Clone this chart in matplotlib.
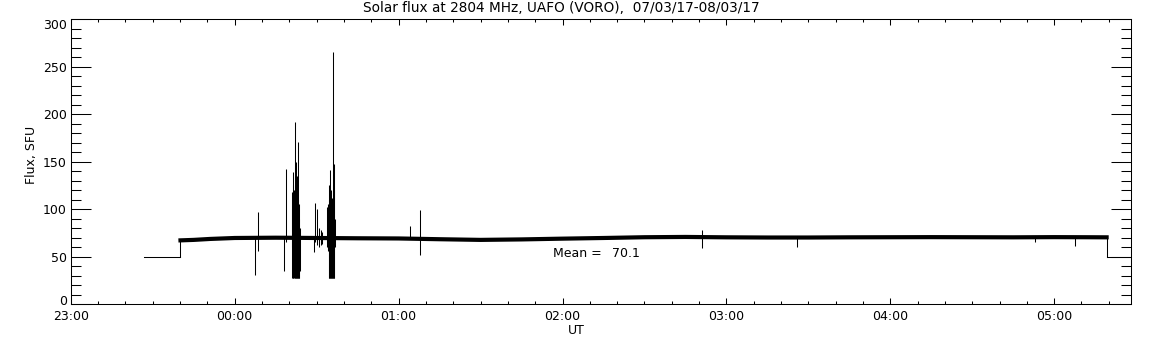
#!/usr/bin/env python3

import matplotlib
matplotlib.use('Agg')
import matplotlib.pyplot as plt
from matplotlib.ticker import MultipleLocator, FuncFormatter
from matplotlib.transforms import ScaledTranslation

# hours relative to 00:00 UT on 08/03/17
flat_start = [-0.553, -0.331]
flat_end = [5.320, 5.469]
flat_level = 50.0

base_t = [-0.331, -0.25, -0.15, 0.0, 0.25, 0.5, 0.75, 1.0, 1.25, 1.5, 1.75,
          2.0, 2.25, 2.5, 2.75, 3.0, 3.25, 3.5, 3.75, 4.0, 4.25, 4.5, 4.75,
          5.0, 5.2, 5.32]
base_v = [67.0, 67.5, 68.5, 69.5, 69.8, 69.5, 69.2, 69.0, 68.2, 67.5, 68.0,
          68.8, 69.5, 70.3, 70.6, 70.2, 70.0, 70.0, 70.2, 70.3, 70.4, 70.3, 70.2,
          70.4, 70.3, 70.2]

# isolated spikes: time (h), low, high
spike_t = [0.122, 0.144, 0.303, 0.315,
           0.486, 0.492, 0.504, 0.516, 0.525, 0.533,
           1.072, 1.133, 2.851, 3.43, 4.88, 5.13]
spike_lo = [30.5, 56, 35, 65,
            55, 65, 62, 60, 62, 63,
            68, 52, 59, 60, 65, 61]
spike_hi = [70, 97, 70, 142,
            70, 106, 100, 80, 78, 76,
            82, 99, 78, 72, 72, 72]

# first burst (about 00:21-00:24)
burst1_t = [0.348, 0.351, 0.354, 0.357, 0.360, 0.363, 0.366, 0.369, 0.372,
            0.375, 0.378, 0.381, 0.384, 0.387, 0.390, 0.393, 0.396]
burst1_lo = [60, 27, 27, 27, 40, 27, 27, 27, 27, 27, 27, 27, 27, 27, 27, 27, 35]
burst1_hi = [118, 100, 139, 125, 120, 110, 192, 115, 150, 130, 135, 120, 110,
             171, 105, 90, 80]

# second burst (about 00:34-00:37)
burst2_t = [0.565, 0.568, 0.571, 0.574, 0.577, 0.580, 0.583, 0.586, 0.589,
            0.592, 0.595, 0.598, 0.601, 0.604, 0.607, 0.610]
burst2_lo = [60, 58, 56, 27, 27, 27, 27, 27, 27, 27, 27, 27, 27, 27, 27, 60]
burst2_hi = [102, 98, 105, 110, 125, 141, 115, 120, 110, 108, 112, 105, 265,
             120, 147, 90]

y_ticks = [0, 50, 100, 150, 200, 250, 300]
mean_value = 70.1
title = 'Solar flux at 2804 MHz, UAFO (VORO),  07/03/17-08/03/17'


def hhmm(x, pos):
    h = int(round(x)) % 24
    return '%02d:00' % h


def main():
    plt.rcParams['font.family'] = ['DejaVu Sans']
    plt.rcParams['font.size'] = 9

    fig = plt.figure(figsize=(11.52, 3.45), dpi=100)
    ax = fig.add_axes([0.0615, 0.1188, 0.9203, 0.8261])

    lw = 0.75
    ax.plot(flat_start, [flat_level, flat_level], color='black', lw=lw)
    ax.plot([flat_start[1], base_t[0]], [flat_level, base_v[0]], color='black', lw=lw)
    ax.plot(base_t, base_v, color='black', lw=3.0, solid_joinstyle='miter')
    ax.plot([base_t[-1], flat_end[0]], [base_v[-1], flat_level], color='black', lw=lw)
    ax.plot(flat_end, [flat_level, flat_level], color='black', lw=lw)
    ax.vlines(spike_t, spike_lo, spike_hi, color='black', lw=lw)
    ax.vlines(burst1_t, burst1_lo, burst1_hi, color='black', lw=lw)
    ax.vlines(burst2_t, burst2_lo, burst2_hi, color='black', lw=lw)

    ax.text(1.94, 53.4, 'Mean =', va='center', ha='left')
    ax.text(2.30, 53.4, '%.1f' % mean_value, va='center', ha='left')

    ax.set_xlim(-1.0, 5.469)
    ax.set_ylim(0, 300)
    ax.xaxis.set_major_locator(MultipleLocator(1.0))
    ax.xaxis.set_minor_locator(MultipleLocator(1.0 / 6))
    ax.xaxis.set_major_formatter(FuncFormatter(hhmm))
    ax.set_yticks(y_ticks)
    ax.yaxis.set_minor_locator(MultipleLocator(10))

    ax.tick_params(which='both', direction='in', top=True, right=True,
                   width=0.75, color='black')
    ax.tick_params(axis='x', which='major', length=4.3, pad=4)
    ax.tick_params(axis='x', which='minor', length=2.2)
    ax.tick_params(axis='y', which='major', length=14.4, pad=3)
    ax.tick_params(axis='y', which='minor', length=7.2)
    for s in ax.spines.values():
        s.set_linewidth(0.75)

    # IDL pulls the end labels of the y axis inward a little
    ylabs = ax.get_yticklabels()
    ylabs[0].set_transform(ylabs[0].get_transform()
                           + ScaledTranslation(0, 4 / 100, fig.dpi_scale_trans))
    ylabs[-1].set_transform(ylabs[-1].get_transform()
                            + ScaledTranslation(0, -5 / 100, fig.dpi_scale_trans))

    fig.text(561.5 / 1152, 1 - 8.5 / 345, title, ha='center', va='center',
             fontsize=9.8)
    fig.text(576 / 1152, 1 - 331 / 345, 'UT', ha='center', va='center')
    fig.text(32 / 1152, 1 - 155 / 345, 'Flux, SFU', ha='center', va='center',
             rotation=90)

    fig.savefig('out.png', dpi=100)


if __name__ == '__main__':
    main()
